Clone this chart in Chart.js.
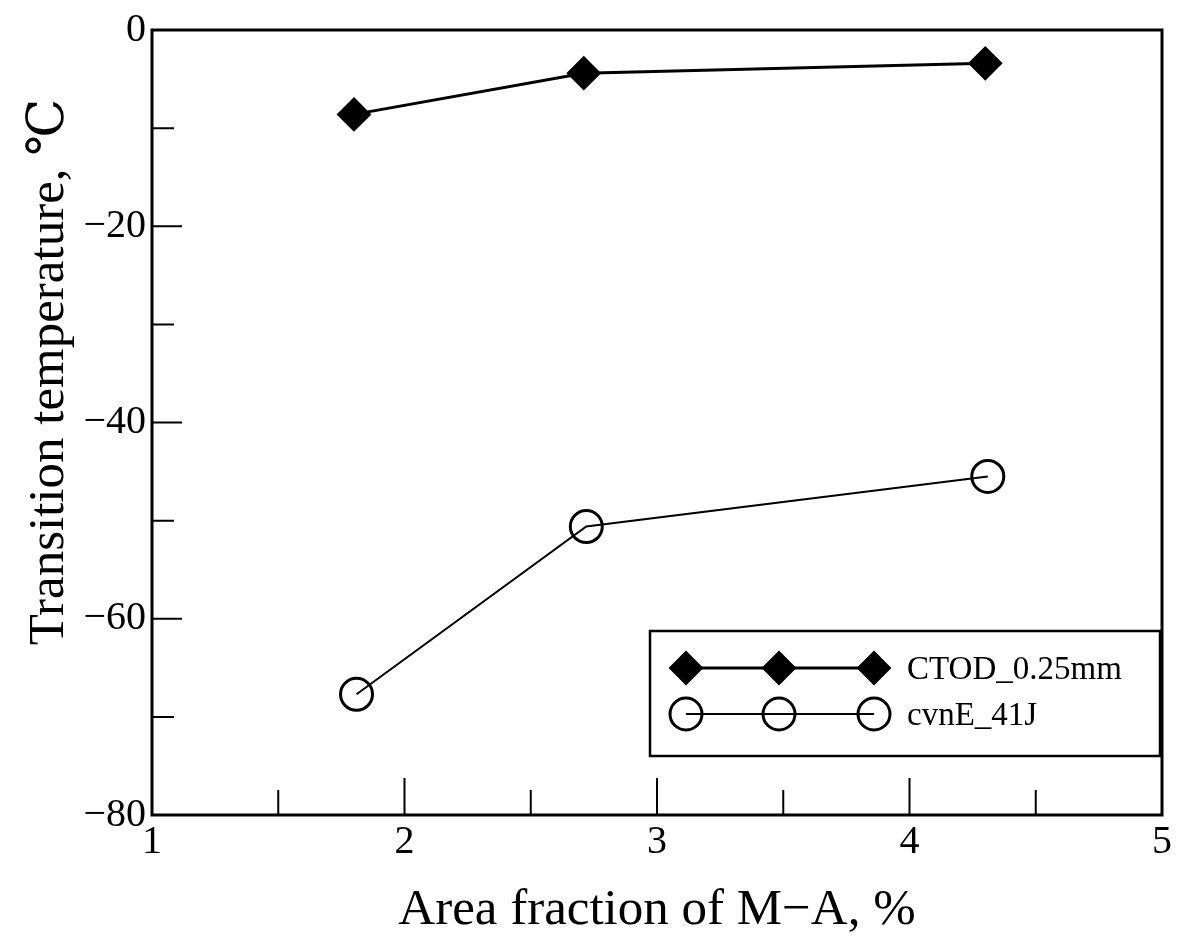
<!DOCTYPE html>
<html>
<head>
<meta charset="utf-8">
<script src="https://cdn.jsdelivr.net/npm/chart.js@4/dist/chart.umd.min.js"></script>
<style>
  html, body { margin: 0; padding: 0; background: #fff; }
  #wrap { width: 1192px; height: 951px; }
</style>
</head>
<body>
<div id="wrap"><canvas id="chart" width="1192" height="951"></canvas></div>
<script>
// values
const maFraction = [1.8, 2.71, 4.3];
const ctodTemp = [-8.6, -4.4, -3.4];
const cvnFraction = [1.81, 2.72, 4.31];
const cvnTemp = [-67.7, -50.6, -45.5];
const seriesNames = ['CTOD_0.25mm', 'cvnE_41J'];
const xTitle = 'Area fraction of M\u2212A, %';
const yTitle = 'Transition temperature, \u2103';

const serif = '"Liberation Serif", "DejaVu Serif", serif';

// ticks drawn inward, plus the closed frame
const frameAndTicks = {
    id: 'frameAndTicks',
    afterDatasetsDraw(chart) {
        const { ctx, chartArea: a, scales } = chart;
        ctx.save();
        ctx.strokeStyle = '#000';
        ctx.lineWidth = 3;
        ctx.strokeRect(a.left, a.top, a.right - a.left, a.bottom - a.top);
        ctx.lineWidth = 2;
        ctx.beginPath();
        for (let v = 1.5; v < 5; v += 0.5) {
            const px = scales.x.getPixelForValue(v);
            const len = Number.isInteger(v) ? 37 : 25;
            ctx.moveTo(px, a.bottom);
            ctx.lineTo(px, a.bottom - len);
        }
        for (let v = -70; v < 0; v += 10) {
            const py = scales.y.getPixelForValue(v);
            const len = v % 20 === 0 ? 30 : 22;
            ctx.moveTo(a.left, py);
            ctx.lineTo(a.left + len, py);
        }
        ctx.stroke();

        // rotated y title
        ctx.fillStyle = '#000';
        ctx.font = '51px ' + serif;
        ctx.translate(50, 372);
        ctx.rotate(-Math.PI / 2);
        ctx.textAlign = 'center';
        ctx.textBaseline = 'middle';
        ctx.fillText(yTitle, 0, 0);
        ctx.restore();
    }
};

// boxed legend with three markers on each row
const boxLegend = {
    id: 'boxLegend',
    afterDraw(chart) {
        const { ctx } = chart;
        const box = { x: 650, y: 631, w: 510, h: 125 };
        ctx.save();
        ctx.fillStyle = '#fff';
        ctx.fillRect(box.x, box.y, box.w, box.h);
        ctx.strokeStyle = '#000';
        ctx.lineWidth = 2.5;
        ctx.strokeRect(box.x, box.y, box.w, box.h);
        const rowsY = [668, 714];
        const marks = [686, 779, 874];
        chart.data.datasets.forEach((ds, i) => {
            const y = rowsY[i];
            ctx.strokeStyle = '#000';
            ctx.lineWidth = ds.borderWidth;
            ctx.beginPath();
            ctx.moveTo(marks[0], y);
            ctx.lineTo(marks[2], y);
            ctx.stroke();
            marks.forEach(mx => {
                ctx.fillStyle = ds.pointBackgroundColor;
                ctx.strokeStyle = ds.pointBorderColor;
                ctx.lineWidth = ds.pointBorderWidth;
                Chart.helpers.drawPoint(ctx, {
                    pointStyle: ds.pointStyle,
                    radius: ds.pointRadius,
                    borderWidth: ds.pointBorderWidth,
                    rotation: 0
                }, mx, y);
            });
            ctx.fillStyle = '#000';
            ctx.font = '33px ' + serif;
            ctx.textAlign = 'left';
            ctx.textBaseline = 'middle';
            ctx.fillText(ds.label, 907, y + 2);
        });
        ctx.restore();
    }
};

new Chart(document.getElementById('chart'), {
    type: 'line',
    data: {
        datasets: [
            {
                label: seriesNames[0],
                data: maFraction.map((x, i) => ({ x, y: ctodTemp[i] })),
                borderColor: '#000',
                borderWidth: 3,
                pointStyle: 'rectRot',
                pointRadius: 16,
                pointBorderWidth: 2,
                pointBackgroundColor: '#000',
                pointBorderColor: '#000',
                tension: 0
            },
            {
                label: seriesNames[1],
                data: cvnFraction.map((x, i) => ({ x, y: cvnTemp[i] })),
                borderColor: '#000',
                borderWidth: 2,
                pointStyle: 'circle',
                pointRadius: 16,
                pointBorderWidth: 3,
                pointBackgroundColor: 'rgba(0,0,0,0)',
                pointBorderColor: '#000',
                tension: 0
            }
        ]
    },
    options: {
        responsive: false,
        animation: false,
        layout: { padding: { top: 18, right: 30, left: 0, bottom: 0 } },
        plugins: { legend: { display: false }, tooltip: { enabled: false } },
        scales: {
            x: {
                type: 'linear',
                min: 1,
                max: 5,
                ticks: { stepSize: 1, color: '#000', font: { family: serif, size: 40 }, padding: 3 },
                grid: { display: false, drawTicks: false },
                border: { display: false },
                title: { display: true, text: xTitle, color: '#000', font: { family: serif, size: 51, lineHeight: 0.8 }, padding: { top: 0, bottom: 20 } },
                afterFit(s) { s.height = 136; }
            },
            y: {
                min: -80,
                max: 0,
                ticks: {
                    stepSize: 20, color: '#000', font: { family: serif, size: 40 }, padding: 6,
                    callback: v => String(v).replace('-', '\u2212')
                },
                grid: { display: false, drawTicks: false },
                border: { display: false },
                afterFit(s) { s.width = 152; }
            }
        }
    },
    plugins: [frameAndTicks, boxLegend]
});
</script>
</body>
</html>
